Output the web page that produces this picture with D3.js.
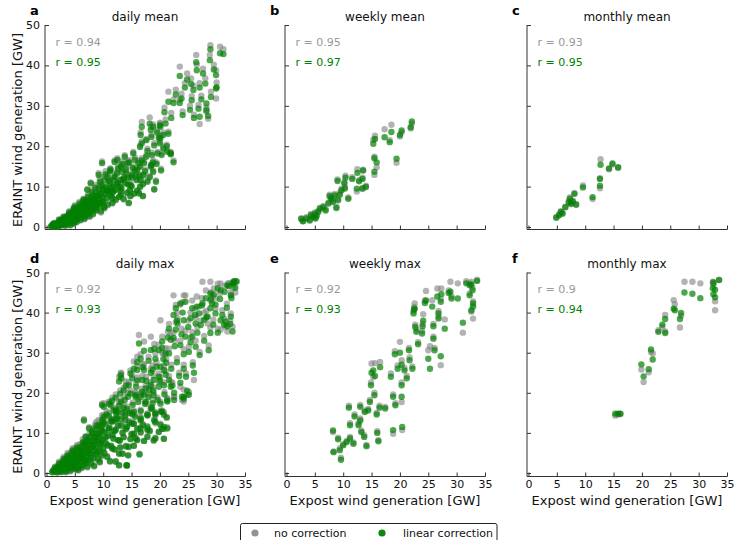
<!DOCTYPE html>
<html>
<head>
<meta charset="utf-8">
<script src="https://cdn.jsdelivr.net/npm/d3@7"></script>
<style>
  body { margin: 0; background: #fff; }
  svg { font-family: "DejaVu Sans", sans-serif; }
</style>
</head>
<body>
<svg id="chart" width="737" height="540"></svg>
<script>
// each point: [expost GW, ERAINT no correction GW, ERAINT linear correction GW]
var dailyMean = [
    [0.8,0.2,0.1],[1.0,0.4,0.3],[1.2,0.1,0.2],[1.3,0.6,0.5],[1.5,0.3,0.2],[1.6,0.9,0.8],[1.8,0.5,0.4],[1.9,0.2,0.3],
    [2.0,1.1,0.9],[2.1,0.6,0.6],[2.2,0.3,0.2],[2.3,1.4,1.2],[2.4,0.8,0.7],[2.5,0.4,0.5],[2.6,1.7,1.5],[2.7,1.0,1.0],
    [2.8,0.5,0.6],[2.9,2.0,1.8],[3.0,1.3,1.2],[3.1,0.8,0.9],[3.2,2.4,2.2],[3.3,1.6,1.5],[3.4,1.0,1.1],[3.5,0.6,0.7],
    [3.6,2.8,2.6],[3.7,1.9,1.9],[3.8,1.3,1.4],[3.9,3.2,3.0],[4.0,2.3,2.2],[4.1,1.5,1.6],[4.2,0.9,1.0],[4.3,3.6,3.4],
    [4.4,2.6,2.6],[4.5,1.9,1.9],[4.6,1.2,1.3],[4.7,4.0,3.8],[4.8,3.0,3.0],[4.9,2.2,2.3],[5.0,1.5,1.7],[5.1,4.5,4.2],
    [5.2,3.4,3.4],[5.3,2.6,2.7],[5.4,1.9,2.0],[5.5,5.0,4.7],[5.6,3.8,3.8],[5.7,2.9,3.0],[5.8,2.1,2.3],[5.9,4.4,4.3],
    [6.0,3.3,3.4],[6.1,5.6,5.3],[6.2,2.6,2.8],[6.3,4.0,4.0],[6.4,6.0,5.7],[6.5,3.1,3.3],[6.6,4.8,4.7],[6.7,2.4,2.6],
    [6.8,5.5,5.3],[6.9,3.7,3.9],[7.0,6.5,6.2],[7.1,4.3,4.4],[7.2,2.9,3.1],[7.3,5.2,5.2],[7.4,7.0,6.6],[7.5,3.6,3.8],
    [7.6,6.0,5.8],[7.7,4.6,4.7],[7.8,7.6,7.2],[7.9,5.4,5.4],[8.0,3.9,4.1],[8.1,6.7,6.5],[8.2,4.8,5.0],[8.3,8.2,7.8],
    [8.4,5.9,5.9],[8.5,7.2,7.0],[8.6,4.4,4.6],[8.7,9.0,8.5],[8.8,6.4,6.4],[8.9,5.3,5.4],[9.0,7.8,7.6],[9.2,10.0,9.4],
    [9.3,6.9,6.9],[9.4,5.6,5.8],[9.5,8.6,8.3],[9.6,11.0,10.4],[9.8,7.4,7.4],[9.9,9.4,9.1],[10.0,6.2,6.4],[10.2,12.4,11.6],
    [10.3,8.2,8.1],[10.5,10.2,9.8],[10.6,7.0,7.2],[10.8,13.0,12.3],[11.0,9.0,8.9],[11.2,11.2,10.8],[11.3,7.6,7.8],
    [11.5,8.3,8.4],[11.7,10.2,10.0],[11.9,12.2,11.7],[12.0,16.5,16.1],[12.2,9.2,9.2],[12.4,13.6,13.2],[12.6,11.0,10.8],
    [12.9,10.0,9.9],[13.1,8.8,8.9],[13.3,14.2,13.6],[13.5,12.0,11.7],[13.8,17.8,17.4],[14.1,13.6,13.2],[14.4,10.6,10.5],
    [14.7,9.2,9.1],[15.0,12.6,12.2],[15.3,18.6,18.2],[15.6,14.5,14.0],[15.9,11.8,11.6],[16.2,16.4,15.8],[16.5,10.1,9.9],
    [16.5,20.2,19.8],[16.5,15.2,14.9],[16.8,26.0,24.8],[17.1,13.1,12.8],[17.6,21.8,21.5],[17.6,17.8,17.4],[18.2,27.1,25.6],
    [18.5,22.8,22.3],[18.5,15.6,15.3],[18.8,16.5,16.0],[18.8,14.0,13.6],[18.8,25.4,24.8],[19.3,11.5,11.2],[20.0,25.8,25.2],
    [20.0,21.2,20.7],[20.3,18.3,17.8],[20.6,19.9,19.4],[21.5,23.6,23.1],[21.5,33.5,31.0],[21.9,18.6,18.2],[22.4,16.5,16.0],
    [22.4,31.6,30.7],[23.5,39.7,37.4],[23.5,31.5,30.7],[24.0,28.6,27.7],[24.4,35.6,34.5],[25.3,30.0,29.0],[25.6,32.4,31.4],
    [25.9,35.0,33.9],[26.4,42.6,40.8],[26.5,40.2,38.8],[26.8,30.2,29.3],[27.0,25.5,27.3],[27.0,35.6,34.5],[27.6,39.2,38.0],
    [28.2,29.5,30.6],[28.2,28.5,28.9],[28.8,42.6,41.3],[28.9,45.0,44.0],[29.9,31.8,34.3],[29.9,38.8,37.6],[30.6,44.6,43.0],
    [31.2,44.0,42.8],
    [9.8,16.2,15.8],[9.2,13.3,12.9],[11.3,14.5,14.1],[12.5,17.0,16.6],[13.1,15.3,14.9],[14.3,16.3,15.8],[13.7,12.4,12.1],
    [15.1,13.3,12.9],[14.8,10.7,10.4],[16.0,14.5,14.1],[16.6,11.9,11.6],[16.3,8.5,8.3],[17.8,11.5,11.2],[17.2,16.2,15.8],
    [18.4,15.3,14.9],[13.1,8.1,7.9],[14.5,6.1,5.9],[11.6,7.3,7.1],[10.7,9.4,9.2],[7.8,11.0,10.8],[7.2,9.4,9.2],[6.6,6.9,6.7],
    [10.1,5.2,5.0],[9.0,6.1,5.9],[4.8,4.7,4.6],[6.0,3.5,3.4],[3.9,2.7,2.6],[2.5,1.8,1.7],[1.3,1.0,0.9],[19.6,18.6,18.2],
    [20.1,22.6,22.0],[21.3,19.0,18.6],[21.9,18.4,18.0],[16.6,23.4,22.8],[16.8,21.2,20.7],[18.4,24.8,24.0],[20.1,25.6,24.8],
    [1.1,0.7,0.6],[1.7,0.1,0.1],[2.2,1.9,1.7],[2.6,0.9,0.8],[3.0,2.6,2.4],[3.3,0.3,0.4],[3.6,1.6,1.5],[4.0,3.9,3.6],
    [4.2,0.4,0.5],[4.5,2.9,2.8],[4.8,0.8,0.9],[5.0,5.4,5.0],[5.3,1.2,1.3],[5.5,3.2,3.2],[5.8,6.2,5.8],[6.0,1.6,1.8],
    [6.2,4.6,4.5],[6.5,7.0,6.6],[6.7,1.9,2.1],[6.9,5.9,5.7],[7.1,3.2,3.4],[7.3,8.0,7.5],[7.6,2.5,2.7],[7.8,5.0,5.1],
    [8.0,9.2,8.6],[8.2,3.1,3.3],[8.4,6.9,6.8],[8.6,10.4,9.7],[8.8,4.0,4.2],[9.0,5.0,5.2],[9.2,8.0,7.8],[9.4,12.0,11.2],
    [9.6,3.6,3.9],[9.8,6.0,6.1],[10.0,10.2,9.8],[10.2,4.6,4.8],[10.4,13.8,13.0],[10.6,9.0,8.8],[10.8,5.4,5.6],
    [11.0,11.8,11.4],[11.2,14.4,13.8],[11.4,9.8,9.6],[11.6,5.8,6.0],[11.8,8.8,8.8],[12.0,12.8,12.4],[12.2,6.6,6.8],
    [12.4,10.8,10.6],[12.6,15.0,14.4],[12.8,7.4,7.5],[13.0,11.8,11.6],[13.2,9.6,9.5],[13.4,16.2,15.6],[13.6,6.8,7.0],
    [13.8,11.0,10.8],[14.0,14.8,14.3],[14.2,8.4,8.5],[14.4,12.4,12.1],[14.6,16.6,16.0],[14.8,7.6,7.7],[15.0,10.2,10.0],
    [15.2,15.0,14.6],[15.4,8.2,8.3],[15.6,17.2,16.6],[15.8,12.8,12.5],[16.0,9.0,9.0],[16.4,13.0,12.7],[16.8,17.0,16.5],
    [17.0,10.8,10.6],[17.4,14.2,13.8],[17.8,19.4,18.8],[18.2,12.6,12.3],[18.6,18.4,17.8],[19.0,20.8,20.2],[19.4,16.0,15.6],
    [19.8,22.6,22.0],[20.2,14.4,14.0],[20.6,23.4,22.8],[21.2,20.4,20.0],[17.0,7.6,7.7],[19.0,9.4,9.3],
    [22.0,28.2,27.0],[22.8,34.0,32.8],[23.8,33.0,31.8],[24.8,38.0,36.5],[25.5,36.8,35.4],[26.0,27.8,27.0],[27.3,32.5,31.6],
    [28.0,36.8,35.5],[29.0,33.5,32.2],[29.5,40.2,39.0],[30.0,35.8,34.6],[28.5,26.8,27.5],[21.0,26.6,25.6],[19.5,24.0,23.4],
    [20.8,29.5,28.4]
];

var weeklyMean = [
    [2.6,2.2,2.0],[2.9,1.5,1.4],[3.5,2.4,2.1],[4.1,1.8,1.6],[4.3,3.2,2.9],[4.7,2.8,2.5],[5.0,3.6,3.3],[5.1,2.3,2.1],
    [5.3,3.0,2.7],[5.6,4.0,3.7],[5.9,4.8,4.5],[6.5,5.2,4.9],[6.9,4.4,4.1],[7.4,6.1,5.8],[7.6,8.0,7.6],[7.9,7.3,7.0],
    [8.2,6.5,6.2],[8.5,8.2,7.8],[8.8,5.0,4.7],[9.1,7.0,6.6],[9.4,8.5,8.0],[9.7,9.5,9.1],[9.0,11.8,11.4],[10.2,11.2,10.8],
    [10.4,12.7,12.2],[10.3,9.9,9.5],[10.9,7.3,7.0],[11.6,12.3,11.9],[12.5,14.3,13.4],[12.8,11.6,11.3],[13.4,12.2,11.9],
    [13.5,14.2,14.0],[12.4,8.8,9.5],[13.4,9.4,9.6],[14.0,10.2,9.9],[15.3,21.6,20.6],[15.6,22.6,21.8],[15.5,17.4,17.0],
    [15.9,14.8,16.0],[15.5,12.9,13.7],[17.3,24.2,22.2],[18.2,21.5,21.0],[18.5,25.3,23.5],[19.4,15.9,16.9],[20.0,22.4,22.8],
    [20.3,23.4,23.9],[21.9,24.4,24.7],[22.1,25.6,26.1]
];

var monthlyMean = [
    [4.9,2.5,2.3],[5.4,3.1,2.9],[5.7,3.9,3.7],[6.0,3.5,3.3],[6.5,5.0,4.9],[7.1,6.4,6.1],[7.3,7.3,7.0],[7.5,5.9,5.7],
    [7.8,6.5,6.3],[8.1,8.4,8.2],[8.4,5.7,5.5],[9.6,10.3,9.8],[11.3,6.9,7.4],[12.6,12.1,11.9],[12.6,9.6,10.2],
    [12.7,16.8,15.4],[14.2,14.3,14.5],[14.8,15.5,15.7],[15.8,14.6,14.8]
];

var dailyMax = [
    [1.0,0.3,0.2],[1.2,0.8,0.6],[1.4,0.2,0.4],[1.6,1.2,1.0],[1.8,0.5,0.6],[2.0,1.8,1.5],[2.1,0.9,0.9],[2.3,0.3,0.5],
    [2.4,2.4,2.0],[2.5,1.3,1.2],[2.7,0.7,0.8],[2.8,3.0,2.6],[2.9,1.8,1.7],[3.0,1.0,1.1],[3.2,3.6,3.1],[3.3,2.3,2.2],
    [3.4,1.4,1.5],[3.5,0.5,0.7],[3.6,4.2,3.6],[3.7,2.8,2.6],[3.8,1.8,1.9],[3.9,0.9,1.1],[4.0,4.8,4.2],[4.1,3.2,3.1],
    [4.2,2.2,2.3],[4.3,1.2,1.4],[4.4,5.4,4.8],[4.5,3.7,3.6],[4.6,2.6,2.7],[4.7,1.6,1.8],[4.8,6.0,5.3],[4.9,4.2,4.0],
    [5.0,3.0,3.1],[5.1,2.0,2.2],[5.2,0.8,1.1],[5.3,6.6,5.9],[5.4,4.7,4.5],[5.5,3.4,3.5],[5.6,2.4,2.6],[5.7,1.3,1.5],
    [5.8,5.4,5.1],[5.9,7.2,6.5],[6.0,3.8,3.9],[6.1,2.7,2.9],[6.2,6.0,5.6],[6.3,4.6,4.5],[6.4,1.8,2.0],[6.5,7.8,7.0],
    [6.6,3.2,3.4],[6.7,5.3,5.2],[6.8,8.4,7.6],[6.9,2.3,2.5],[7.0,6.6,6.2],[7.1,4.1,4.2],[7.2,9.0,8.2],[7.3,5.8,5.6],
    [7.4,3.0,3.2],[7.5,7.4,7.0],[7.6,10.0,9.0],[7.7,4.8,4.9],[7.8,6.4,6.2],[7.9,2.2,2.5],[8.0,8.4,7.8],[8.1,11.2,10.2],
    [8.2,5.4,5.4],[8.3,3.6,3.8],[8.4,7.2,7.0],[8.5,9.4,8.8],[8.6,12.2,11.0],[8.7,4.6,4.8],[8.8,6.4,6.3],[8.9,10.6,9.8],
    [9.0,8.2,7.9],[9.1,3.2,3.5],[9.2,13.2,12.0],[9.3,5.6,5.7],[9.4,9.4,9.0],[9.5,7.2,7.1],[9.6,11.6,10.8],[9.7,4.2,4.4],
    [9.8,14.4,13.2],[9.9,8.4,8.2],[10.0,6.0,6.1],[10.1,17.4,16.5],[10.2,10.6,10.2],[10.4,12.8,12.2],[10.5,7.4,7.4],
    [10.7,4.2,4.0],[10.8,9.4,9.2],[11.0,15.0,14.2],[11.1,11.6,11.2],[11.3,17.8,16.9],[11.4,6.6,6.8],[11.6,13.4,12.8],
    [11.8,8.6,8.6],[12.0,10.6,10.4],[12.2,3.0,2.8],[12.3,15.6,14.8],[12.5,16.0,15.3],[12.6,12.2,11.8],[12.8,5.0,4.8],
    [12.9,8.0,8.1],[13.1,14.0,13.4],[12.8,24.0,22.8],[13.2,24.8,23.6],[13.4,10.2,10.0],[13.6,17.0,16.2],[13.9,13.8,13.2],
    [14.0,6.8,6.6],[14.2,1.9,1.9],[14.2,11.8,11.4],[14.4,20.0,19.0],[14.6,15.6,15.0],[14.8,8.6,8.4],[15.1,14.6,14.8],
    [15.4,12.4,12.3],[15.4,9.8,9.8],[16.0,8.2,8.2],[16.6,13.0,13.2],[16.6,10.0,10.2],[17.8,11.2,11.6],[17.8,9.2,9.0],
    [18.9,8.0,8.2],[19.2,12.4,12.7],[20.4,11.0,11.0],[20.7,8.6,8.5],[19.2,14.2,14.8],[12.2,13.0,13.4],
    [9.8,17.3,16.9],[11.0,17.8,17.3],[13.1,18.2,17.7],[13.6,21.2,20.6],[13.1,25.0,24.4],[14.5,22.6,21.9],[16.0,23.8,23.1],
    [15.7,20.0,19.4],[16.6,19.6,19.0],[17.5,21.8,21.1],[18.4,22.6,21.9],[18.9,20.0,19.4],[19.8,24.8,24.0],[20.7,22.6,21.9],
    [20.1,17.8,17.3],[19.2,15.2,14.8],[17.8,14.8,14.4],[16.6,14.0,13.6],[15.4,15.6,15.2],[13.9,14.8,14.4],[15.1,12.6,12.3],
    [16.6,11.4,11.1],[17.8,11.0,10.7],[19.2,8.8,8.6],[15.7,8.8,8.6],[14.5,6.6,6.5],[13.4,4.9,4.8],[14.1,2.0,1.9],
    [12.8,2.0,1.9],[11.6,6.2,6.1],[8.6,9.2,9.0],[7.5,11.4,11.1],[6.9,9.2,9.0],[6.6,13.4,13.1],[9.8,12.2,11.9],
    [11.6,13.4,13.1],[12.2,16.0,15.6],[10.1,14.4,14.0],[18.4,16.5,16.1],[20.4,15.6,15.2],[21.3,18.6,18.1],[20.1,12.3,12.0],
    [21.3,11.4,11.1],
    [32.8,47.6,47.3],[33.5,47.9,47.7],[31.9,47.2,46.8],[32.5,45.0,44.3],[30.7,47.3,45.6],[28.9,47.7,44.8],[29.2,44.0,42.3],
    [28.1,45.5,43.6],[27.5,47.7,42.3],[29.8,41.0,39.8],[28.9,43.0,41.1],[28.4,37.3,39.0],[26.9,41.5,39.8],[25.7,43.0,41.1],
    [25.4,40.0,38.6],[26.3,38.8,37.3],[27.2,38.0,36.9],[28.9,36.2,34.9],[30.7,35.7,38.1],[32.5,39.8,39.0],[32.8,36.5,35.3],
    [31.9,35.3,36.6],[24.5,44.3,42.7],[23.6,42.0,42.3],[22.8,41.9,41.1],[22.4,44.3,39.4],[24.2,44.3,38.1],[23.1,38.6,37.3],
    [22.4,35.0,33.7],[21.6,37.2,36.0],[24.5,35.5,34.0],[25.7,35.2,34.0],[26.3,33.0,31.5],[25.1,31.5,30.2],[23.6,33.0,31.9],
    [21.9,34.5,33.2],[21.0,31.1,29.8],[20.4,34.0,32.8],[19.8,32.0,30.7],[19.2,29.8,28.5],[20.1,38.1,26.5],[18.7,26.8,25.7],
    [17.2,27.0,25.7],[16.6,29.6,28.5],[16.3,34.4,32.3],[18.4,34.0,30.7],[20.7,26.8,25.7],[21.6,24.2,23.2],[21.9,22.6,21.5],
    [18.9,24.2,23.2],[19.8,22.6,21.5],[18.1,21.8,20.7],[16.9,24.2,23.2],[16.0,26.6,25.7],[15.1,24.5,23.6],[15.7,20.0,19.0],
    [17.2,32.8,30.5],[17.2,20.0,19.5],[18.7,18.2,17.4],[20.7,15.2,14.5],[24.2,20.8,19.0],[25.1,20.2,19.5],[22.5,19.0,18.2],
    [21.3,18.6,17.8],[24.2,27.0,26.0],[26.0,23.2,25.0],[23.6,21.5,22.5],[24.2,17.8,18.5],[17.5,17.4,17.8],[15.4,27.8,26.0],
    [22.5,19.0,20.0],[23.9,18.2,19.0],[24.8,19.5,20.5],[20.7,11.0,11.5],[30.2,47.2,46.0],[29.5,46.0,44.5],[31.3,38.5,37.0],
    [27.8,40.0,38.2],[26.5,44.0,41.5],[23.0,40.0,38.0],[21.1,28.4,27.5],
    [1.5,1.6,1.4],[1.9,0.1,0.2],[2.2,2.8,2.4],[2.6,0.2,0.3],[3.0,4.0,3.5],[3.1,2.0,1.9],[3.4,0.2,0.3],[3.7,5.0,4.4],
    [3.9,2.4,2.3],[4.2,0.4,0.6],[4.4,3.8,3.7],[4.6,6.2,5.6],[4.8,1.0,1.2],[5.0,4.6,4.4],[5.2,2.8,2.9],[5.4,7.0,6.3],
    [5.6,0.6,0.8],[5.8,3.8,3.8],[6.0,5.8,5.6],[6.2,1.2,1.4],[6.4,8.4,7.6],[6.6,4.4,4.4],[6.8,2.8,3.0],[7.0,7.2,6.8],
    [7.2,1.4,1.6],[7.4,5.2,5.1],[7.6,8.6,8.0],[7.8,3.6,3.8],[8.0,10.6,9.8],[8.2,6.8,6.6],[8.4,1.6,1.8],[8.6,8.4,8.0],
    [8.8,12.8,11.8],[9.0,5.0,5.1],[9.2,10.2,9.6],[9.4,2.6,2.8],[9.6,7.6,7.5],[9.8,11.0,10.4],[10.0,13.4,12.6],
    [10.2,4.8,5.0],[10.4,9.0,8.8],[10.6,15.4,14.6],[10.8,6.8,6.9],[11.0,11.2,10.8],[11.2,2.8,3.0],[11.4,13.4,12.9],
    [11.6,9.6,9.4],[11.8,16.4,15.6],[12.0,5.8,5.9],[12.2,11.0,10.7],[12.4,14.2,13.6],[12.6,8.2,8.2],[12.8,17.6,16.8],
    [13.0,6.4,6.4],[13.2,12.2,11.8],[13.4,15.6,15.0],[13.6,9.0,8.9],[13.8,19.0,18.2],[14.0,11.2,10.9],[14.2,16.6,16.0],
    [14.4,4.4,4.4],[14.6,13.0,12.6],[14.8,20.6,19.8],[15.0,9.8,9.7],[15.2,17.6,17.0],[15.4,6.8,6.8],[15.6,14.4,14.0],
    [15.8,22.4,21.5],[16.0,11.2,11.0],[16.2,18.4,17.7],[16.4,4.8,4.6],[16.6,15.8,15.4],[16.8,21.0,20.2],[17.0,12.2,12.0],
    [17.2,8.0,8.0],[17.4,17.8,17.2],[17.6,24.0,23.0],[17.8,14.8,14.4],[18.0,19.6,19.0],[18.2,10.6,10.5],[18.4,26.0,25.0],
    [18.6,16.4,16.0],[18.8,21.4,20.6],[19.0,13.4,13.1],[19.4,27.6,26.5],[19.6,18.8,18.2],[19.8,10.2,10.3],[20.0,23.8,23.0],
    [20.2,15.6,15.3],[20.6,29.6,28.4],[20.8,20.2,19.6],[21.0,25.4,24.5],[21.2,14.0,13.8],[21.6,31.0,29.8],[22.0,27.0,26.0],
    [22.2,22.6,21.8],[22.6,33.0,31.6],[23.0,28.6,27.6],[23.4,25.0,24.2],[23.8,36.0,34.6],[24.2,30.8,29.6],[24.6,24.8,24.0],
    [25.0,38.0,36.4],[25.4,33.8,32.6],[25.8,27.6,26.8],[26.2,41.0,39.4],[26.6,36.4,35.0],[27.0,30.2,29.4],[27.4,43.6,41.8],
    [27.8,34.2,33.0],[28.2,40.4,38.8],[28.6,31.8,30.6],[29.0,45.0,43.4],[29.4,38.2,37.0],[29.8,43.6,42.0],[30.2,36.0,35.0],
    [30.6,44.8,43.4],[31.0,40.6,39.4],[31.4,46.6,45.2],[31.8,42.2,41.2],[32.2,47.4,46.6],[32.6,44.4,43.6],[33.0,46.2,47.4],
    [33.3,45.0,46.2],[33.1,47.8,47.8],[32.4,38.0,37.2],[31.6,36.4,37.8],[24.0,42.6,40.0],[22.8,37.6,35.8],[21.4,35.2,33.8],
    [20.4,30.0,31.2],[19.0,32.2,31.0],[18.0,29.0,28.0],[17.0,27.2,26.4],[16.0,29.0,27.6],[14.8,25.6,24.8],[14.0,22.8,21.8],
    [13.0,20.6,19.8],[12.2,19.6,18.8],[11.6,18.8,18.0]
];

var weeklyMax = [
    [8.2,10.2,10.6],[8.3,5.4,5.2],[9.6,3.8,3.3],[9.4,6.2,5.7],[10.0,7.2,6.9],[9.1,8.8,8.4],[10.6,8.0,7.7],[11.2,9.0,8.6],
    [11.8,7.6,7.3],[11.0,16.8,16.3],[12.0,14.6,14.1],[11.2,12.4,11.9],[12.7,12.4,11.9],[13.0,17.0,16.5],[13.0,13.6,13.1],
    [13.2,10.6,10.2],[13.7,9.4,9.0],[14.1,7.0,6.7],[14.4,16.0,15.6],[14.7,18.2,17.7],[13.8,15.6,15.2],[14.9,22.6,21.9],
    [15.5,20.0,19.4],[15.3,24.0,25.6],[15.0,27.3,25.0],[15.6,27.4,24.2],[16.5,27.7,26.4],[15.9,15.0,14.6],[16.0,10.4,10.0],
    [16.2,8.2,7.9],[16.4,16.8,16.3],[17.4,16.5,16.1],[18.4,24.8,24.0],[19.1,30.4,29.6],[19.2,17.4,16.9],[18.8,19.6,19.0],
    [20.3,17.7,19.0],[20.3,22.6,21.9],[18.8,9.8,10.7],[20.4,10.7,11.5],[19.6,26.8,26.0],[20.0,32.7,30.0],[20.8,26.2,25.6],
    [21.6,31.2,30.6],[21.7,28.8,28.1],[21.2,24.2,23.6],[22.2,26.6,26.0],[20.3,28.1,27.0],[22.4,40.4,39.8],[22.5,41.4,40.8],
    [22.6,42.3,41.0],[22.9,35.8,35.2],[23.2,32.6,32.1],[22.7,37.0,36.4],[23.9,35.4,34.8],[24.0,37.2,36.6],[24.4,43.0,42.4],
    [24.1,39.6,38.0],[24.6,45.4,43.0],[25.9,34.0,33.5],[26.1,31.2,30.6],[25.0,30.6,28.5],[25.3,31.6,26.0],[27.2,43.3,42.7],
    [26.8,40.4,39.8],[26.8,39.0,38.5],[25.9,37.2,36.6],[25.7,43.1,41.5],[27.2,26.9,29.1],[27.9,38.3,36.0],[26.6,46.0,44.0],
    [27.3,46.0,44.6],[28.6,45.5,44.9],[29.1,44.0,43.5],[28.9,47.7,45.2],[30.2,47.3,43.5],[31.1,35.0,37.5],[31.7,47.8,47.3],
    [32.3,47.3,46.8],[32.8,46.2,45.6],[32.3,44.8,44.3],[33.6,48.2,47.9],[32.6,47.7,47.0],[32.9,42.8,42.3],[32.6,40.2,40.6],
    [32.9,38.5,41.5]
];

var monthlyMax = [
    [15.3,14.3,14.8],[15.8,14.6,14.8],[16.2,14.7,14.8],[19.9,25.8,27.1],[20.3,22.7,24.1],[21.2,25.1,25.9],[21.6,30.2,30.8],
    [21.9,29.8,28.3],[22.9,35.6,35.2],[23.6,36.4,37.0],[24.1,35.3,34.9],[24.1,39.4,38.4],[25.6,43.1,41.0],[25.8,42.1,40.6],
    [26.7,36.3,38.4],[26.9,39.2,39.9],[27.5,47.7,45.0],[28.9,47.7,44.7],[30.3,47.3,43.6],[32.5,47.7,46.1],[32.9,42.8,45.7],
    [32.6,47.3,44.6],[32.9,40.6,43.8],[32.6,47.0,47.5],[33.6,48.2,48.1]
];

var panelData = [dailyMean, weeklyMean, monthlyMean, dailyMax, weeklyMax, monthlyMax];
var panelTitles = ["daily mean", "weekly mean", "monthly mean", "daily max", "weekly max", "monthly max"];
var panelLetters = ["a", "b", "c", "d", "e", "f"];
var rNoCorrection = ["0.94", "0.95", "0.93", "0.92", "0.92", "0.9"];
var rLinear = ["0.95", "0.97", "0.95", "0.93", "0.93", "0.94"];
var xTicks = [0, 5, 10, 15, 20, 25, 30, 35];
var yTicks = [0, 10, 20, 30, 40, 50];
var legendLabels = ["no correction", "linear correction"];

var grayColor = "#808080";
var greenColor = "#008000";

var svg = d3.select("#chart");

// panel geometry
var colLeft = [45, 285, 527];
var rows = [
    {top: 25, zero: 227, spine: 229.5},
    {top: 272.5, zero: 473, spine: 476.5}
];

panelData.forEach(function(data, i) {
    var col = i % 3, row = Math.floor(i / 3);
    var left = colLeft[col];
    var r = rows[row];

    var x = d3.scaleLinear().domain([0, 35]).range([left + 1.5, left + 200]);
    var y = d3.scaleLinear().domain([0, 50]).range([r.zero, r.top]);

    var g = svg.append("g");

    // spines
    g.append("line")
        .attr("x1", left).attr("x2", left)
        .attr("y1", r.top).attr("y2", r.spine)
        .attr("stroke", "#333");
    g.append("line")
        .attr("x1", left).attr("x2", x(35) + 0.5)
        .attr("y1", r.spine).attr("y2", r.spine)
        .attr("stroke", "#333");

    // ticks point inward
    var xAxis = d3.axisBottom(x).tickValues(xTicks).tickSizeInner(-4).tickSizeOuter(0).tickPadding(4);
    if (row == 0) xAxis.tickFormat("");
    var gx = g.append("g").attr("transform", "translate(0," + r.spine + ")").call(xAxis);

    var yAxis = d3.axisLeft(y).tickValues(yTicks).tickSizeInner(-4).tickSizeOuter(0).tickPadding(5);
    if (col != 0) yAxis.tickFormat("");
    var gy = g.append("g").attr("transform", "translate(" + left + ",0)").call(yAxis);

    [gx, gy].forEach(function(a) {
        a.select(".domain").remove();
        a.selectAll(".tick line").attr("stroke", "#333");
        a.selectAll(".tick text")
            .attr("fill", "#111")
            .style("font-size", "11px")
            .style("font-family", "DejaVu Sans");
    });

    // points: no correction underneath, linear correction on top
    g.append("g").selectAll("circle")
        .data(data)
        .enter()
        .append("circle")
        .attr("cx", function(d) { return x(d[0]); })
        .attr("cy", function(d) { return y(d[1]); })
        .attr("r", 3.2)
        .attr("fill", grayColor)
        .attr("fill-opacity", 0.6);
    g.append("g").selectAll("circle")
        .data(data)
        .enter()
        .append("circle")
        .attr("cx", function(d) { return x(d[0]); })
        .attr("cy", function(d) { return y(d[2]); })
        .attr("r", 3.2)
        .attr("fill", greenColor)
        .attr("fill-opacity", 0.7);

    // labels
    g.append("text")
        .attr("x", left + 100).attr("y", r.top - 4.5)
        .attr("text-anchor", "middle")
        .style("font-size", "12px")
        .attr("fill", "#111")
        .text(panelTitles[i]);
    g.append("text")
        .attr("x", left - 15).attr("y", r.top - 10)
        .style("font-size", "13px")
        .style("font-weight", "bold")
        .attr("fill", "#000")
        .text(panelLetters[i]);
    g.append("text")
        .attr("x", left + 10.5).attr("y", r.top + 20.7)
        .style("font-size", "11px")
        .attr("fill", "#999")
        .text("r = " + rNoCorrection[i]);
    g.append("text")
        .attr("x", left + 10.5).attr("y", r.top + 40.7)
        .style("font-size", "11px")
        .attr("fill", greenColor)
        .text("r = " + rLinear[i]);

    if (col == 0) {
        var cy = (r.top + r.zero) / 2 + 4;
        g.append("text")
            .attr("transform", "translate(21.5," + cy + ") rotate(-90)")
            .attr("text-anchor", "middle")
            .style("font-size", "13px")
            .attr("fill", "#111")
            .text("ERAINT wind generation [GW]");
    }
    if (row == 1) {
        g.append("text")
            .attr("x", left + 100).attr("y", 504.5)
            .attr("text-anchor", "middle")
            .style("font-size", "13px")
            .attr("fill", "#111")
            .text("Expost wind generation [GW]");
    }
});

// legend
var lg = svg.append("g");
lg.append("rect")
    .attr("x", 240.5).attr("y", 523.5)
    .attr("width", 256.5).attr("height", 30)
    .attr("rx", 2)
    .attr("fill", "#fff")
    .attr("stroke", "#222");
var legendItems = [
    {label: legendLabels[0], color: grayColor, opacity: 0.85, cx: 255, tx: 274},
    {label: legendLabels[1], color: greenColor, opacity: 0.95, cx: 382, tx: 403}
];
legendItems.forEach(function(item) {
    lg.append("circle")
        .attr("cx", item.cx).attr("cy", 533)
        .attr("r", 3.6)
        .attr("fill", item.color)
        .attr("fill-opacity", item.opacity);
    lg.append("text")
        .attr("x", item.tx).attr("y", 537)
        .style("font-size", "11px")
        .attr("fill", "#111")
        .text(item.label);
});
</script>
</body>
</html>
